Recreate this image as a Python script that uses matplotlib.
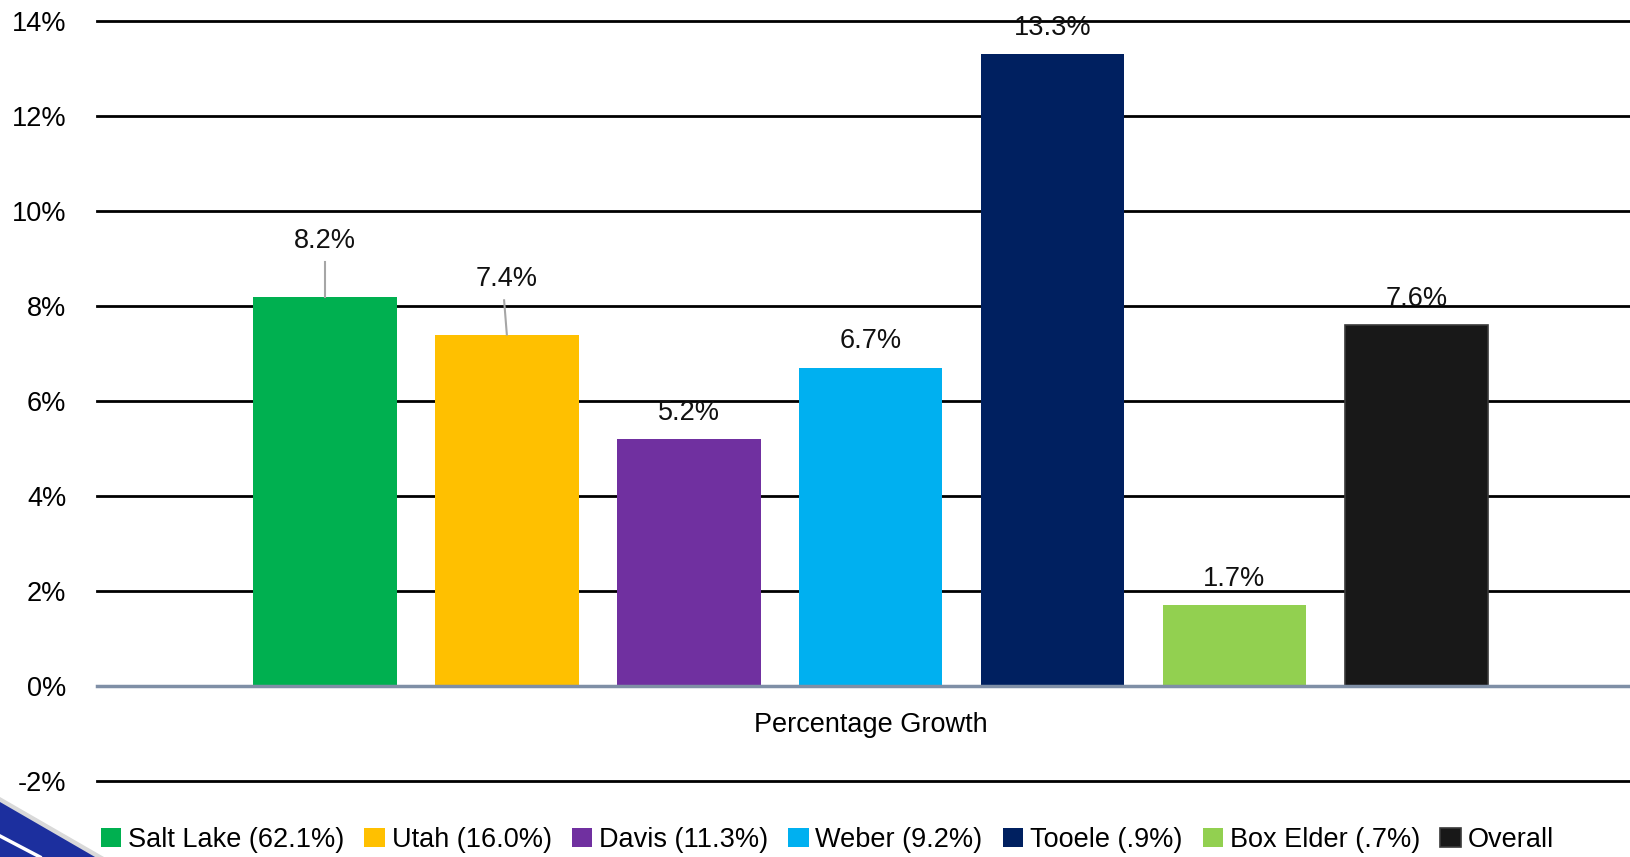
import matplotlib.pyplot as plt
from matplotlib.patches import Polygon

plt.rcParams['font.family'] = ['Liberation Sans', 'DejaVu Sans']

counties = ['Salt Lake (62.1%)', 'Utah (16.0%)', 'Davis (11.3%)', 'Weber (9.2%)',
            'Tooele (.9%)', 'Box Elder (.7%)', 'Overall']
growth = [8.2, 7.4, 5.2, 6.7, 13.3, 1.7, 7.6]
colors = ['#00B050', '#FFC000', '#7030A0', '#00B0F0', '#002060', '#92D050', '#181818']
yticks = [-2, 0, 2, 4, 6, 8, 10, 12, 14]

fig = plt.figure(figsize=(16.31, 8.57), dpi=100)
ax = fig.add_axes([97 / 1631, 76 / 857, 1 - 97 / 1631, 760 / 857])

fs = 19.5
for i, (name, val, c) in enumerate(zip(counties, growth, colors)):
    edge = '#3a3a3a' if name == 'Overall' else 'none'
    ax.bar(i, val, width=0.79, color=c, edgecolor=edge, linewidth=1.2,
           label=name, zorder=3)
    # first two labels are pushed up with leader lines
    lift = 40 if i < 2 else 19
    ax.annotate(f'{val:.1f}%', xy=(i, val), xytext=(0, lift),
                textcoords='offset points', ha='center', va='center',
                fontsize=fs, color='#111111', zorder=5)
    if i < 2:
        ax.plot([i, i - 0.015 * i], [val, val + 0.72], color='#a6a6a6',
                lw=1.5, zorder=4)

ax.set_xlim(-1.253, 7.18)
ax.set_ylim(-2, 14)
ax.set_yticks(yticks)
ax.set_yticklabels([f'{t}%' for t in yticks], fontsize=fs)
ax.set_xticks([])
ax.tick_params(length=0, pad=22)
for t in yticks:
    if t == 0:
        ax.axhline(0, color='#7f8fa6', lw=2.5, zorder=4, clip_on=False)
    else:
        ax.axhline(t, color='black', lw=2, zorder=1, clip_on=False)
for s in ax.spines.values():
    s.set_visible(False)

# category label sits just under the zero line
ax.annotate('Percentage Growth', xy=(3, 0), xytext=(0, -28),
            textcoords='offset points', ha='center', va='center', fontsize=fs)

fig.legend(loc='lower left', bbox_to_anchor=(90 / 1631, -0.008), ncol=7,
           frameon=False, fontsize=fs, handlelength=0.75, handleheight=0.75,
           handletextpad=0.25, columnspacing=0.75, borderaxespad=0)

# corner swoosh decoration
fig.patches.append(Polygon([[0, 60 / 857], [0, 0], [104 / 1631, 0]],
                           closed=True, transform=fig.transFigure,
                           facecolor='#d9d9d9', edgecolor='none', zorder=0))
fig.patches.append(Polygon([[0, 55 / 857], [0, 0], [95 / 1631, 0]],
                           closed=True, transform=fig.transFigure,
                           facecolor='#1c2f9e', edgecolor='none', zorder=1))
fig.lines.append(plt.Line2D([0, 40 / 1631], [21 / 857, 0], transform=fig.transFigure,
                            color='white', lw=2.5, zorder=2))

fig.savefig('out.png', dpi=100)
